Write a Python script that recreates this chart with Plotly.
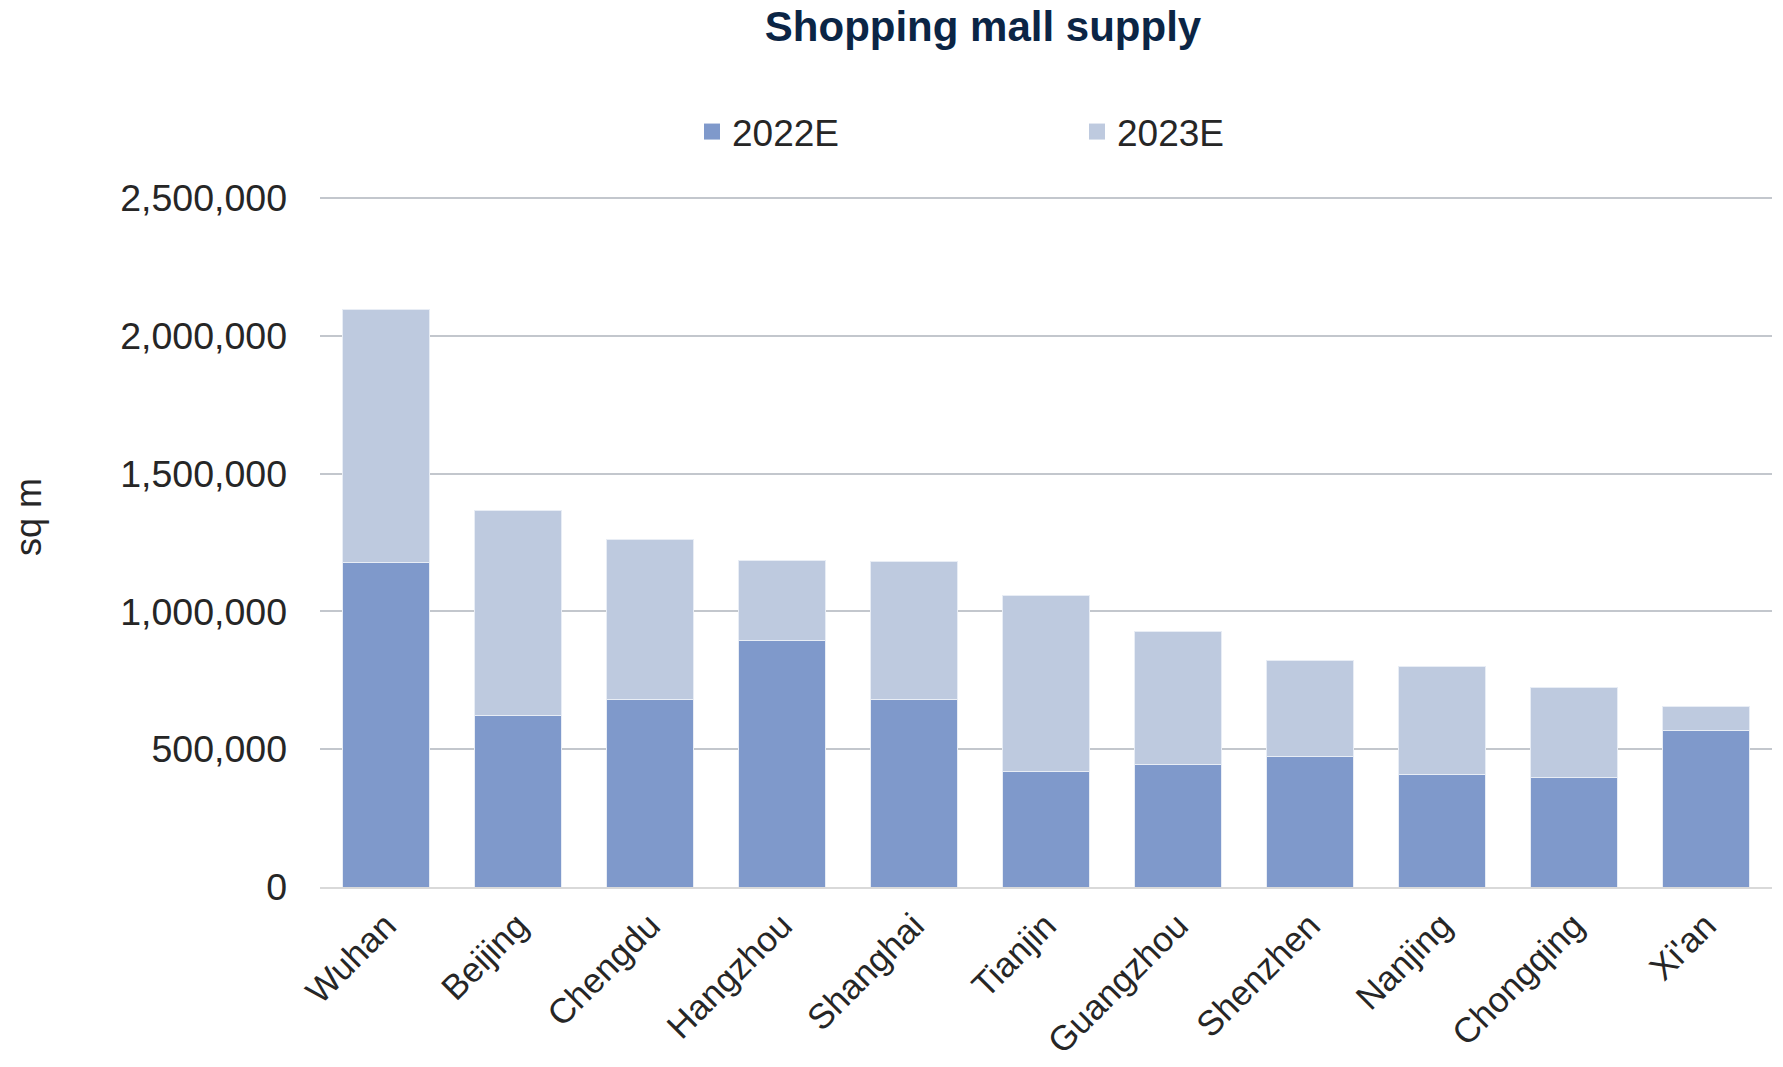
import plotly.graph_objects as go

cities = ["Wuhan", "Beijing", "Chengdu", "Hangzhou", "Shanghai", "Tianjin",
          "Guangzhou", "Shenzhen", "Nanjing", "Chongqing", "Xi'an"]
supply_2022 = [1178000, 622000, 679000, 896000, 679000, 419000,
               445000, 474000, 409000, 398000, 567000]
supply_2023 = [917000, 746000, 582000, 289000, 504000, 639000,
               483000, 349000, 393000, 327000, 87000]
y_ticks = [0, 500000, 1000000, 1500000, 2000000, 2500000]
series_names = ["2022E", "2023E"]
series_colors = ["#7F99CB", "#BECADF"]

W, H = 1783, 1067
L, R, T, B = 320, 11, 197, 180
FONT = "Liberation Sans, Arial, sans-serif"
TXT = "#262626"

fig = go.Figure()
for vals, name, color, lg in zip([supply_2022, supply_2023], series_names,
                                 series_colors, ["legend", "legend2"]):
    fig.add_trace(go.Bar(x=cities, y=vals, name=name, showlegend=False,
                         marker=dict(color=color, line=dict(color="#E8EDF5", width=1))))
    # legend entry with a larger square swatch
    fig.add_trace(go.Scatter(x=[None], y=[None], mode="markers", name=name,
                             marker=dict(symbol="square", size=18, color=color),
                             legend=lg, showlegend=True))

legend_common = dict(orientation="h", xref="container", yref="container",
                     xanchor="left", yanchor="middle", y=1 - 132 / H,
                     itemsizing="trace",
                     font=dict(family=FONT, size=37, color=TXT),
                     bgcolor="rgba(0,0,0,0)", borderwidth=0)

fig.update_layout(
    width=W, height=H,
    margin=dict(l=L, r=R, t=T, b=B, pad=0),
    paper_bgcolor="white", plot_bgcolor="white",
    barmode="stack", bargap=0.34,
    title=dict(text="<b>Shopping mall supply</b>", xref="container", yref="container",
               x=983 / W, y=1 - 26 / H, xanchor="center", yanchor="middle",
               font=dict(family=FONT, size=42, color="#0B2545")),
    legend=dict(x=692 / W, **legend_common),
    legend2=dict(x=1077 / W, **legend_common),
    xaxis=dict(tickangle=-45, tickfont=dict(family=FONT, size=35, color=TXT),
               showgrid=False, showline=True, linecolor="#D9D9D9", linewidth=2,
               ticks="", ticklabelstandoff=2, automargin=False),
    yaxis=dict(range=[0, 2504000], tickvals=y_ticks, tickformat=",d",
               tickfont=dict(family=FONT, size=37.5, color=TXT),
               showgrid=True, gridcolor="#C3C7CD", gridwidth=1.5,
               zeroline=False, showline=False, ticks="", ticklabelstandoff=32,
               automargin=False),
    annotations=[dict(text="sq m", textangle=-90, xref="paper", yref="paper",
                      x=(28 - L) / (W - L - R), y=(H - B - 517) / (H - T - B),
                      xanchor="center", yanchor="middle", showarrow=False,
                      font=dict(family=FONT, size=36, color=TXT))],
)

# remove the default page margin so the full-size figure fills the window
fig.write_html("out.html", config={"displayModeBar": False},
               post_script="document.body.style.margin='0';document.body.style.overflow='hidden';")
